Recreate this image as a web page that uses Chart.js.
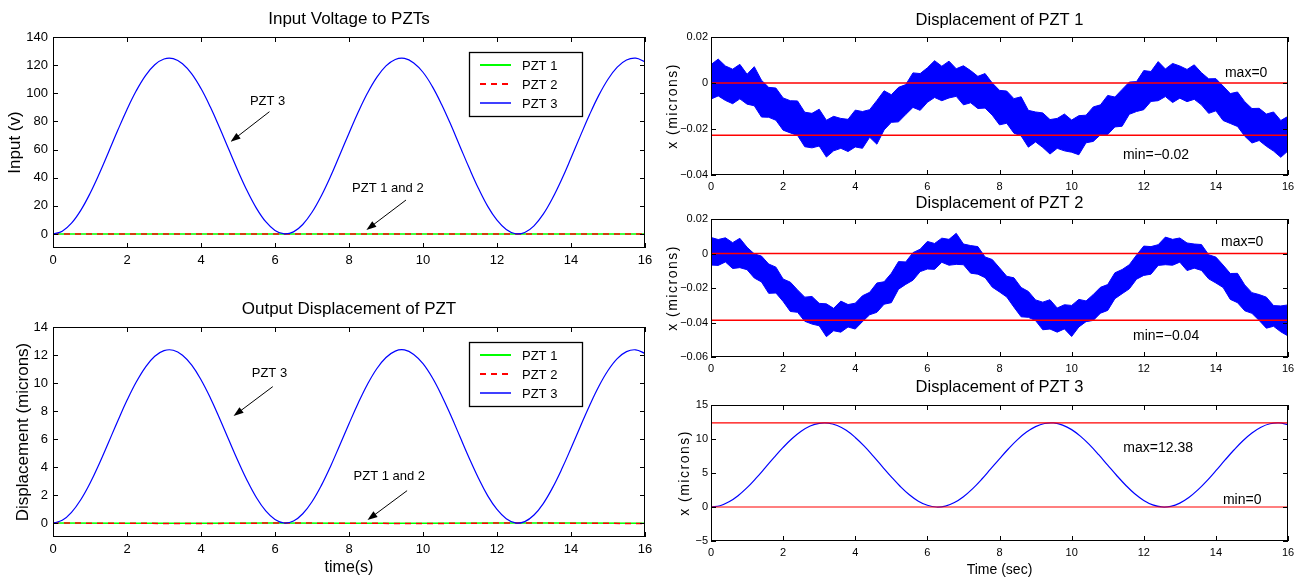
<!DOCTYPE html>
<html>
<head>
<meta charset="utf-8">
<title>PZT input voltage and displacement</title>
<script src="https://cdn.jsdelivr.net/npm/chart.js@4.4.0/dist/chart.umd.min.js"></script>
<style>
  html, body { margin: 0; padding: 0; background: #fff; }
  body { width: 1302px; height: 579px; position: relative; overflow: hidden; }
  canvas { position: absolute; }
</style>
</head>
<body>
<canvas id="inputChart"></canvas>
<canvas id="outputChart"></canvas>
<canvas id="pzt1Chart"></canvas>
<canvas id="pzt2Chart"></canvas>
<canvas id="pzt3Chart"></canvas>
<script>
const FONT = "'Liberation Sans', Arial, Helvetica, sans-serif";
const BLUE = "#0000ff", RED = "#ff0000", GREEN = "#00ff00";

// time axis (seconds)
const xTicks = [0, 2, 4, 6, 8, 10, 12, 14, 16];
const flatTimes = [0, 2, 4, 6, 8, 10, 12, 14, 16];
const smoothTimes = [
  0, 0.25, 0.5, 0.75, 1, 1.25, 1.5, 1.75, 2, 2.25, 2.5, 2.75, 3, 3.25, 3.5, 3.75,
  4, 4.25, 4.5, 4.75, 5, 5.25, 5.5, 5.75, 6, 6.25, 6.5, 6.75, 7, 7.25, 7.5, 7.75,
  8, 8.25, 8.5, 8.75, 9, 9.25, 9.5, 9.75, 10, 10.25, 10.5, 10.75, 11, 11.25, 11.5, 11.75,
  12, 12.25, 12.5, 12.75, 13, 13.25, 13.5, 13.75, 14, 14.25, 14.5, 14.75, 15, 15.25, 15.5, 15.75, 16
];
const noisyTimes = [
  0, 0.2, 0.4, 0.6, 0.8, 1, 1.2, 1.4, 1.6, 1.8, 2, 2.2, 2.4, 2.6, 2.8, 3, 3.2, 3.4, 3.6, 3.8,
  4, 4.2, 4.4, 4.6, 4.8, 5, 5.2, 5.4, 5.6, 5.8, 6, 6.2, 6.4, 6.6, 6.8, 7, 7.2, 7.4, 7.6, 7.8,
  8, 8.2, 8.4, 8.6, 8.8, 9, 9.2, 9.4, 9.6, 9.8, 10, 10.2, 10.4, 10.6, 10.8, 11, 11.2, 11.4, 11.6, 11.8,
  12, 12.2, 12.4, 12.6, 12.8, 13, 13.2, 13.4, 13.6, 13.8, 14, 14.2, 14.4, 14.6, 14.8, 15, 15.2, 15.4, 15.6, 15.8,
  16
];

// input voltage (V)
const voltPzt1 = [0, 0, 0, 0, 0, 0, 0, 0, 0];
const voltPzt2 = [0, 0, 0, 0, 0, 0, 0, 0, 0];
const voltPzt3 = [
  0, 1.94, 7.65, 16.77, 28.73, 42.79, 58.08, 73.64, 88.51, 101.76, 112.57, 120.27, 124.37, 124.63, 121.03, 113.79,
  103.35, 90.38, 75.67, 60.15, 44.77, 30.49, 18.21, 8.68, 2.49, 0.03, 1.46, 6.69, 15.38, 27.01, 40.84, 56.19,
  71.59, 86.61, 100.13, 111.29, 119.44, 124.03, 124.82, 121.59, 114.94, 104.93, 92.22, 77.72, 62.22, 46.8, 32.29, 19.59,
  9.76, 3.18, 0.14, 1.05, 5.78, 14.04, 25.35, 38.85, 53.96, 69.54, 84.68, 98.49, 109.98, 118.55, 123.63, 124.94, 122.36
];
const voltTicks = [0, 20, 40, 60, 80, 100, 120, 140];

// output displacement (microns)
const dispPzt1 = [0, -0.012, -0.021, -0.001, -0.009, -0.022, -0.004, -0.006, -0.022];
const dispPzt2 = [0, -0.021, -0.035, -0.002, -0.015, -0.037, -0.006, -0.010, -0.038];
const dispPzt3 = [
  0, 0.19, 0.76, 1.66, 2.84, 4.24, 5.75, 7.29, 8.76, 10.07, 11.14, 11.91, 12.31, 12.34, 11.98, 11.27,
  10.23, 8.95, 7.49, 5.95, 4.43, 3.02, 1.8, 0.86, 0.25, 0, 0.14, 0.66, 1.52, 2.67, 4.04, 5.56,
  7.09, 8.57, 9.91, 11.02, 11.82, 12.28, 12.36, 12.04, 11.38, 10.39, 9.13, 7.69, 6.16, 4.63, 3.2, 1.94,
  0.97, 0.31, 0.01, 0.1, 0.57, 1.39, 2.51, 3.85, 5.34, 6.88, 8.38, 9.75, 10.89, 11.74, 12.24, 12.37, 12.11
];
const dispTicks = [0, 2, 4, 6, 8, 10, 12, 14];

// noise band of PZT 1 and PZT 2, upper / lower envelope in nanometres
const pzt1UpperNm = [
  8.0, 10.4, 7.4, 6.0, 8.1, 3.8, 7.1, 1.2, -1.9, -2.2,
  -6.5, -7.7, -7.8, -12.7, -13.2, -11.4, -16.2, -14.5, -15.4, -15.8,
  -11.8, -12.4, -11.6, -7.6, -3.4, -5.1, -1.9, -0.7, 4.4, 4.1,
  6.6, 9.7, 7.3, 9.5, 6.2, 7.5, 5.4, 2.9, 4.1, 0.0,
  -3.2, -3.5, -6.8, -6.0, -11.9, -12.6, -13.0, -15.9, -15.4, -13.5,
  -16.1, -14.2, -14.0, -10.4, -9.5, -5.4, -6.1, -2.8, 0.4, 0.6,
  5.4, 5.0, 9.3, 6.1, 8.5, 7.4, 5.9, 7.9, 4.5, 1.8,
  1.9, -1.3, -4.6, -3.9, -8.1, -11.1, -11.0, -13.5, -12.6, -16.3,
  -14.5
];
const pzt1LowerNm = [
  -7.0, -5.6, -7.6, -9.0, -6.9, -9.2, -9.9, -14.8, -14.9, -16.2,
  -20.5, -21.7, -22.8, -27.7, -28.2, -27.4, -32.2, -29.5, -28.4, -29.8,
  -27.8, -28.4, -23.6, -26.6, -20.4, -17.1, -16.9, -13.7, -10.6, -11.9,
  -8.4, -6.3, -7.7, -6.5, -5.8, -9.5, -8.6, -11.1, -10.9, -14.0,
  -18.2, -17.5, -21.8, -23.0, -27.9, -25.6, -28.0, -30.9, -28.4, -29.5,
  -30.1, -31.2, -26.0, -25.4, -22.5, -22.4, -19.1, -18.8, -13.6, -12.4,
  -11.6, -8.0, -7.7, -5.9, -8.5, -6.6, -8.1, -7.1, -9.5, -13.2,
  -12.1, -16.3, -17.6, -18.9, -23.1, -26.1, -25.0, -27.5, -29.6, -32.3,
  -29.5
];
const pzt2UpperNm = [
  9.3, 8.1, 9.1, 6.3, 8.8, 3.6, -0.2, -1.5, -6.1, -7.9,
  -14.8, -16.6, -21.1, -25.3, -24.9, -28.9, -29.2, -31.8, -27.6, -29.6,
  -28.8, -24.5, -22.5, -17.1, -16.4, -11.5, -4.7, -4.9, 0.5, 2.5,
  7.0, 5.8, 8.9, 8.2, 11.7, 5.5, 4.6, 4.0, -2.0, -3.5,
  -8.3, -13.2, -14.1, -19.7, -22.0, -26.9, -28.2, -26.8, -31.6, -29.7,
  -30.1, -26.6, -27.5, -23.8, -19.6, -18.0, -11.2, -9.3, -6.5, -0.9,
  4.3, 4.0, 5.1, 9.5, 8.2, 9.0, 6.1, 5.5, 5.2, -0.7,
  -2.1, -6.7, -11.6, -11.5, -18.2, -22.7, -23.8, -25.3, -30.2, -30.4,
  -29.8
];
const pzt2LowerNm = [
  -6.7, -6.9, -4.9, -8.7, -8.2, -9.4, -14.2, -16.5, -23.1, -22.9,
  -27.8, -33.6, -34.1, -39.3, -40.9, -41.9, -48.2, -44.8, -45.6, -42.6,
  -43.8, -39.5, -35.5, -34.1, -29.4, -28.5, -20.7, -17.9, -15.5, -10.5,
  -9.0, -9.2, -5.1, -6.8, -6.3, -6.5, -11.4, -12.0, -14.0, -19.5,
  -22.3, -25.2, -31.1, -36.7, -37.0, -38.9, -44.2, -43.8, -45.6, -43.7,
  -48.1, -42.6, -39.5, -38.8, -34.6, -33.0, -26.2, -23.3, -20.5, -14.9,
  -12.7, -12.0, -6.9, -6.5, -6.8, -5.0, -9.9, -8.5, -9.8, -14.7,
  -17.1, -19.7, -26.6, -28.5, -33.2, -34.7, -38.8, -43.3, -42.2, -45.4,
  -47.8
];

// max / min reference lines (microns)
const pzt1Limits = [0, -0.0227];
const pzt2Limits = [0, -0.0387];
const pzt3Limits = [12.38, 0];
const pzt1Ticks = [-0.04, -0.02, 0, 0.02];
const pzt2Ticks = [-0.06, -0.04, -0.02, 0, 0.02];
const pzt3Ticks = [-5, 0, 5, 10, 15];

function pts(xs, ys, scale) {
  return xs.map((x, i) => ({ x: x, y: scale ? ys[i] * scale : ys[i] }));
}
function hline(y) {
  return [{ x: 0, y: y }, { x: 16, y: y }];
}
function fmt(v) {
  return v < 0 ? "\u2212" + Math.abs(v) : String(v);
}

function drawArrow(ctx, x1, y1, x2, y2) {
  const ang = Math.atan2(y2 - y1, x2 - x1), len = 10, half = 3.5;
  const c = Math.cos(ang), s = Math.sin(ang);
  ctx.beginPath();
  ctx.moveTo(x1, y1);
  ctx.lineTo(x2 - c * len * 0.8, y2 - s * len * 0.8);
  ctx.stroke();
  ctx.beginPath();
  ctx.moveTo(x2, y2);
  ctx.lineTo(x2 - len * c + half * s, y2 - len * s - half * c);
  ctx.lineTo(x2 - len * c - half * s, y2 - len * s + half * c);
  ctx.closePath();
  ctx.fill();
}

// frame, inward ticks, titles, notes, arrows and legend
function decor(spec) {
  return {
    id: "decor",
    afterDraw(chart) {
      const ctx = chart.ctx, a = chart.chartArea;
      const xs = chart.scales.x, ys = chart.scales.y;
      ctx.save();
      ctx.strokeStyle = "#000";
      ctx.fillStyle = "#000";
      ctx.lineWidth = 1;
      ctx.beginPath();
      xs.ticks.forEach(t => {
        const px = Math.round(xs.getPixelForValue(t.value)) + 0.5;
        ctx.moveTo(px, a.bottom); ctx.lineTo(px, a.bottom - 5);
        ctx.moveTo(px, a.top); ctx.lineTo(px, a.top + 5);
      });
      ys.ticks.forEach(t => {
        const py = Math.round(ys.getPixelForValue(t.value)) + 0.5;
        ctx.moveTo(a.left, py); ctx.lineTo(a.left + 5, py);
        ctx.moveTo(a.right, py); ctx.lineTo(a.right - 5, py);
      });
      ctx.stroke();
      ctx.strokeRect(a.left + 0.5, a.top + 0.5, a.right - a.left - 1, a.bottom - a.top - 1);

      ctx.textAlign = "center";
      ctx.textBaseline = "middle";
      ctx.font = spec.titleSize + "px " + FONT;
      ctx.fillText(spec.title, (a.left + a.right) / 2, spec.titleY);

      ctx.save();
      ctx.translate(spec.yLabelX, (a.top + a.bottom) / 2);
      ctx.rotate(-Math.PI / 2);
      ctx.font = spec.yLabelSize + "px " + FONT;
      if (spec.yLabelSpacing) ctx.letterSpacing = spec.yLabelSpacing + "px";
      ctx.fillText(spec.yLabel, 0, 0);
      ctx.restore();

      if (spec.xLabel) {
        ctx.font = spec.xLabelSize + "px " + FONT;
        ctx.fillText(spec.xLabel, (a.left + a.right) / 2, spec.xLabelY);
      }

      ctx.font = spec.noteSize + "px " + FONT;
      (spec.notes || []).forEach(n => {
        ctx.fillText(n[0], xs.getPixelForValue(n[1]), ys.getPixelForValue(n[2]));
      });
      (spec.arrows || []).forEach(r => {
        drawArrow(ctx, xs.getPixelForValue(r[0]), ys.getPixelForValue(r[1]),
          xs.getPixelForValue(r[2]), ys.getPixelForValue(r[3]));
      });

      if (spec.legend) {
        const bx = a.right - 176, by = a.top + 15;
        ctx.fillStyle = "#fff";
        ctx.fillRect(bx, by, 113, 64);
        ctx.strokeStyle = "#000";
        ctx.lineWidth = 1.3;
        ctx.strokeRect(bx + 0.5, by + 0.5, 113, 64);
        ctx.font = "13px " + FONT;
        ctx.textAlign = "left";
        spec.legend.forEach((item, i) => {
          const ry = by + 13 + i * 19;
          ctx.strokeStyle = item.color;
          ctx.lineWidth = item.width;
          ctx.setLineDash(item.dash);
          ctx.beginPath();
          ctx.moveTo(bx + 11, ry); ctx.lineTo(bx + 42, ry);
          ctx.stroke();
          ctx.setLineDash([]);
          ctx.fillStyle = "#000";
          ctx.fillText(item.label, bx + 53, ry + 1);
        });
      }
      ctx.restore();
    }
  };
}

function makeChart(id, box, datasets, axes, spec) {
  const el = document.getElementById(id);
  el.width = box.w; el.height = box.h;
  el.style.left = box.x + "px"; el.style.top = box.y + "px";
  el.style.width = box.w + "px"; el.style.height = box.h + "px";
  const tickFont = { family: FONT, size: axes.tickSize };
  return new Chart(el.getContext("2d"), {
    type: "line",
    data: { datasets: datasets },
    options: {
      responsive: false,
      animation: false,
      events: [],
      layout: { padding: { left: 0, right: axes.padRight, top: axes.padTop, bottom: 0 } },
      elements: { point: { radius: 0 } },
      plugins: { legend: { display: false }, tooltip: { enabled: false }, title: { display: false } },
      scales: {
        x: {
          type: "linear", min: 0, max: 16,
          grid: { display: false, drawTicks: false },
          border: { display: false },
          ticks: { font: tickFont, color: "#000", padding: 5, autoSkip: false, maxRotation: 0, callback: fmt },
          afterBuildTicks: s => { s.ticks = xTicks.map(v => ({ value: v })); },
          afterFit: s => { s.height = axes.xH; }
        },
        y: {
          type: "linear", min: axes.yMin, max: axes.yMax,
          grid: { display: false, drawTicks: false },
          border: { display: false },
          ticks: { font: tickFont, color: "#000", padding: axes.yPad, autoSkip: false, callback: fmt },
          afterBuildTicks: s => { s.ticks = axes.yTicks.map(v => ({ value: v })); },
          afterFit: s => { s.width = axes.yW; }
        }
      }
    },
    plugins: [decor(spec)]
  });
}

const leftLegend = [
  { label: "PZT 1", color: GREEN, width: 2, dash: [] },
  { label: "PZT 2", color: RED, width: 2, dash: [6, 5] },
  { label: "PZT 3", color: BLUE, width: 1.5, dash: [] }
];

function leftSets(flat1, flat2, curve) {
  return [
    { label: "PZT 3", data: pts(smoothTimes, curve), borderColor: BLUE, borderWidth: 1.2, tension: 0.4, fill: false },
    { label: "PZT 2", data: pts(flatTimes, flat2), borderColor: RED, borderWidth: 1.5, borderDash: [6, 5], fill: false },
    { label: "PZT 1", data: pts(flatTimes, flat1), borderColor: GREEN, borderWidth: 1.5, fill: false }
  ];
}

function bandSets(upperNm, lowerNm, limits, limitWidth) {
  return [
    { label: "max", data: hline(limits[0]), borderColor: RED, borderWidth: limitWidth, fill: false },
    { label: "min", data: hline(limits[1]), borderColor: RED, borderWidth: limitWidth, fill: false },
    { label: "upper", data: pts(noisyTimes, upperNm, 0.001), borderColor: BLUE, borderWidth: 1, backgroundColor: BLUE, fill: "+1" },
    { label: "lower", data: pts(noisyTimes, lowerNm, 0.001), borderColor: BLUE, borderWidth: 1, fill: false }
  ];
}

makeChart("inputChart", { x: 0, y: 0, w: 660, h: 290 },
  leftSets(voltPzt1, voltPzt2, voltPzt3),
  { padTop: 37, padRight: 15, yW: 53, xH: 42, yMin: -10, yMax: 140, yTicks: voltTicks, tickSize: 13, yPad: 5 },
  {
    title: "Input Voltage to PZTs", titleY: 19, titleSize: 17,
    yLabel: "Input (v)", yLabelX: 15, yLabelSize: 17,
    noteSize: 13,
    notes: [["PZT 3", 5.8, 94], ["PZT 1 and 2", 9.05, 32.4]],
    arrows: [[5.85, 86.9, 4.8, 65.5], [9.54, 24.1, 8.47, 2.8]],
    legend: leftLegend
  });

makeChart("outputChart", { x: 0, y: 290, w: 660, h: 289 },
  leftSets(dispPzt1, dispPzt2, dispPzt3),
  { padTop: 37, padRight: 15, yW: 53, xH: 42, yMin: -1, yMax: 14, yTicks: dispTicks, tickSize: 13, yPad: 5 },
  {
    title: "Output Displacement of PZT", titleY: 19, titleSize: 17,
    yLabel: "Displacement (microns)", yLabelX: 23, yLabelSize: 17,
    xLabel: "time(s)", xLabelY: 278, xLabelSize: 16,
    noteSize: 13,
    notes: [["PZT 3", 5.85, 10.7], ["PZT 1 and 2", 9.09, 3.36]],
    arrows: [[5.94, 9.74, 4.88, 7.64], [9.57, 2.31, 8.5, 0.21]],
    legend: leftLegend
  });

makeChart("pzt1Chart", { x: 660, y: 0, w: 642, h: 195 },
  bandSets(pzt1UpperNm, pzt1LowerNm, pzt1Limits, 1.5),
  { padTop: 37, padRight: 14, yW: 51, xH: 20, yMin: -0.04, yMax: 0.02, yTicks: pzt1Ticks, tickSize: 11, yPad: 3 },
  {
    title: "Displacement of PZT 1", titleY: 20, titleSize: 16.5,
    yLabel: "x (microns)", yLabelX: 13, yLabelSize: 14, yLabelSpacing: 1.5,
    noteSize: 14,
    notes: [["max=0", 14.84, 0.0043], ["min=\u22120.02", 12.34, -0.0313]]
  });

makeChart("pzt2Chart", { x: 660, y: 185, w: 642, h: 190 },
  bandSets(pzt2UpperNm, pzt2LowerNm, pzt2Limits, 1.5),
  { padTop: 34, padRight: 14, yW: 51, xH: 18, yMin: -0.06, yMax: 0.02, yTicks: pzt2Ticks, tickSize: 11, yPad: 3 },
  {
    title: "Displacement of PZT 2", titleY: 18, titleSize: 16.5,
    yLabel: "x (microns)", yLabelX: 13, yLabelSize: 14, yLabelSpacing: 1.5,
    noteSize: 14,
    notes: [["max=0", 14.73, 0.0068], ["min=\u22120.04", 12.62, -0.0477]]
  });

makeChart("pzt3Chart", { x: 660, y: 370, w: 642, h: 209 },
  [
    { label: "max", data: hline(pzt3Limits[0]), borderColor: RED, borderWidth: 1.2, fill: false },
    { label: "min", data: hline(pzt3Limits[1]), borderColor: RED, borderWidth: 1.2, fill: false },
    { label: "PZT 3", data: pts(smoothTimes, dispPzt3), borderColor: BLUE, borderWidth: 1.2, tension: 0.4, fill: false }
  ],
  { padTop: 35, padRight: 14, yW: 51, xH: 38, yMin: -5, yMax: 15, yTicks: pzt3Ticks, tickSize: 11, yPad: 3 },
  {
    title: "Displacement of PZT 3", titleY: 17, titleSize: 16.5,
    yLabel: "x (microns)", yLabelX: 25.6, yLabelSize: 14, yLabelSpacing: 1.5,
    xLabel: "Time (sec)", xLabelY: 200, xLabelSize: 14,
    noteSize: 14,
    notes: [["max=12.38", 12.4, 8.63], ["min=0", 14.73, 1.03]]
  });
</script>
</body>
</html>
